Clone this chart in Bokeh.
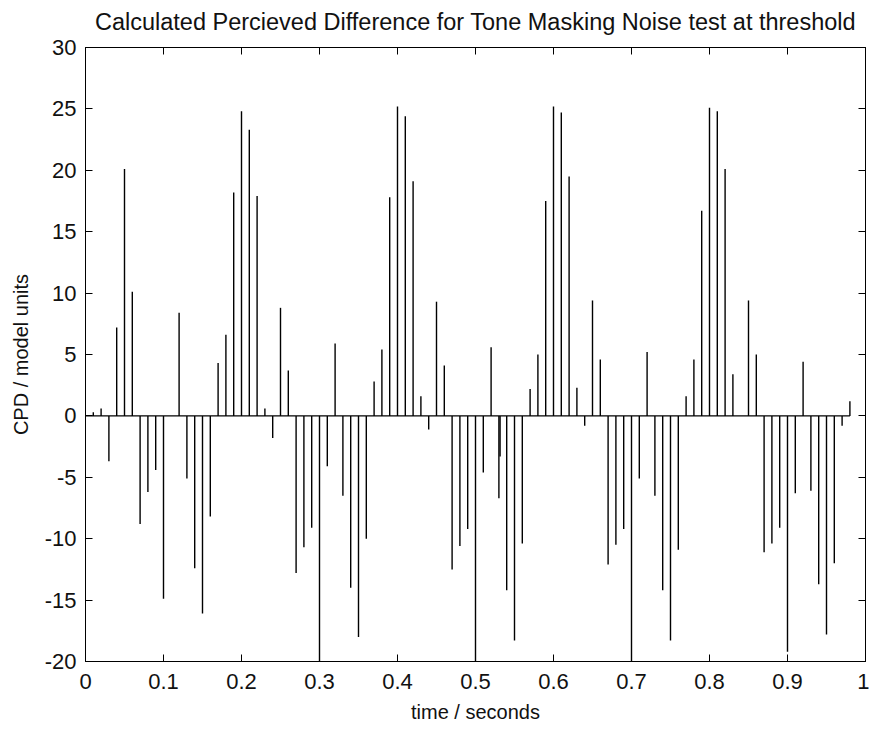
from bokeh.plotting import figure
from bokeh.models import LinearAxis, FixedTicker, Range1d
from bokeh.embed import file_html
from bokeh.resources import INLINE

# Sample times (s) and calculated perceived difference (model units)
time_s = [round(0.01 * i, 2) for i in range(99)]
cpd = [
    0.0, 0.3, 0.6, -3.7, 7.2, 20.1, 10.1, -8.8, -6.2, -4.4,
    -14.9, 0.0, 8.4, -5.1, -12.4, -16.1, -8.2, 4.3, 6.6, 18.2,
    24.8, 23.3, 17.9, 0.6, -1.8, 8.8, 3.7, -12.8, -10.7, -9.1,
    -20.0, -4.1, 5.9, -6.5, -14.0, -18.0, -10.0, 2.8, 5.4, 17.8,
    25.2, 24.4, 19.1, 1.6, -1.1, 9.3, 4.1, -12.5, -10.6, -9.2,
    -20.0, -4.6, 5.6, -6.7, -14.2, -18.3, -10.4, 2.2, 5.0, 17.5,
    25.2, 24.7, 19.5, 2.3, -0.8, 9.4, 4.6, -12.1, -10.5, -9.2,
    -20.0, -5.1, 5.2, -6.5, -14.2, -18.3, -10.9, 1.6, 4.6, 16.7,
    25.1, 24.8, 20.1, 3.4, 0.0, 9.4, 5.0, -11.1, -10.4, -9.1,
    -19.2, -6.3, 4.4, -6.1, -13.7, -17.8, -12.0, -0.8, 1.2,
]
# an extra sample that lands just after t = 0.53
extra_time = [0.5315]
extra_cpd = [-3.3]

x_ticks = [0, 0.1, 0.2, 0.3, 0.4, 0.5, 0.6, 0.7, 0.8, 0.9, 1]
x_tick_labels = ["0", "0.1", "0.2", "0.3", "0.4", "0.5", "0.6", "0.7", "0.8", "0.9", "1"]
y_ticks = [-20, -15, -10, -5, 0, 5, 10, 15, 20, 25, 30]
y_tick_labels = [str(v) for v in y_ticks]

TITLE = "Calculated Percieved Difference for Tone Masking Noise test at threshold"
FONT = "Liberation Sans"

p = figure(
    width=869, height=729,
    output_backend="svg", toolbar_location=None,
    x_range=Range1d(0, 1), y_range=Range1d(-20, 30),
    min_border_left=85, min_border_right=4,
    min_border_top=47, min_border_bottom=68,
    x_axis_label="time / seconds", y_axis_label="CPD / model units",
)
p.background_fill_color = "white"
p.border_fill_color = "white"
p.outline_line_color = "black"
p.outline_line_width = 1
p.xgrid.visible = False
p.ygrid.visible = False

bottom_axis = p.xaxis[0]
left_axis = p.yaxis[0]

bottom_axis.ticker = FixedTicker(ticks=x_ticks)
bottom_axis.major_label_overrides = dict(zip(x_ticks, x_tick_labels))
bottom_axis.major_label_standoff = 12
bottom_axis.axis_label_standoff = 9

left_axis.ticker = FixedTicker(ticks=y_ticks)
left_axis.major_label_overrides = dict(zip(y_ticks, y_tick_labels))
left_axis.major_label_standoff = 9
left_axis.axis_label_standoff = 10

for ax in (bottom_axis, left_axis):
    ax.major_label_text_font_size = "22px"
    ax.axis_label_text_font_size = "20px"

# top edge: tick marks only, with the title carried as this axis' label
top_axis = LinearAxis(ticker=FixedTicker(ticks=x_ticks),
                      major_label_overrides={t: "" for t in x_ticks},
                      major_label_standoff=0, major_label_text_font_size="2px",
                      axis_label=TITLE, axis_label_standoff=13,
                      axis_label_text_font_size="23.5px")
# right edge: tick marks only
right_axis = LinearAxis(ticker=FixedTicker(ticks=y_ticks),
                        major_label_overrides={t: "" for t in y_ticks},
                        major_label_standoff=0, major_label_text_font_size="2px")
p.add_layout(top_axis, "above")
p.add_layout(right_axis, "right")

for ax in (bottom_axis, left_axis, top_axis, right_axis):
    ax.axis_line_color = "black"
    ax.major_tick_line_color = "black"
    ax.major_tick_in = 7
    ax.major_tick_out = 0
    ax.minor_tick_line_color = None
    ax.major_label_text_font = FONT
    ax.major_label_text_color = "#111111"
    ax.axis_label_text_font = FONT
    ax.axis_label_text_font_style = "normal"
    ax.axis_label_text_color = "#111111"

# baseline across the sampled span
p.segment(x0=[min(time_s)], y0=[0], x1=[max(time_s)], y1=[0], line_color="black", line_width=1.2)

# stems
p.segment(x0=time_s, y0=[0] * len(time_s), x1=time_s, y1=cpd, line_color="black", line_width=1.4)
p.segment(x0=extra_time, y0=[0] * len(extra_time), x1=extra_time, y1=extra_cpd,
          line_color="black", line_width=1.4)

open("out.html", "w").write(file_html(p, INLINE))
